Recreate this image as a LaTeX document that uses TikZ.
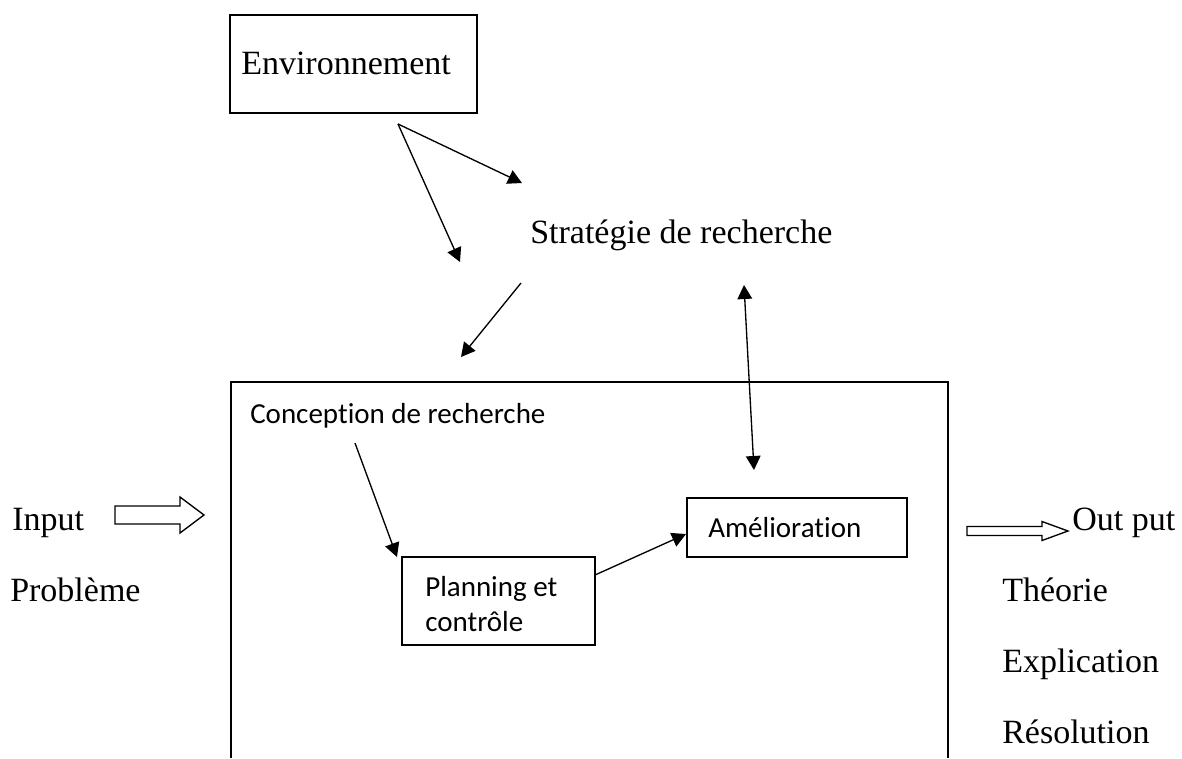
\documentclass[tikz,border=0pt]{standalone}
\usepackage{fontspec}
\setmainfont{Liberation Serif}
\newfontfamily\calibri[Ligatures=NoCommon]{Carlito}
\usetikzlibrary{arrows.meta}

\tikzset{
  serif/.style={anchor=base west, inner sep=0pt, font=\fontsize{25.5}{30}\selectfont},
  sans/.style={anchor=base west, inner sep=0pt, font=\calibri\fontsize{21.75}{26}\selectfont},
  link/.style={line width=1pt, -{Triangle[length=10.5pt,width=11pt]}},
  twoway/.style={line width=1pt, {Triangle[length=10.5pt,width=11pt]}-{Triangle[length=10.5pt,width=11pt]}},
  hollow/.style={line width=1pt, fill=white},
}

\begin{document}
\begin{tikzpicture}[x=0.75pt,y=0.75pt,yscale=-1,xscale=1]
\useasboundingbox (0,0) rectangle (1182,758);

%Shape: Rectangle
\draw [line width=1pt] (230,15) rectangle (477,113);
\node [serif] (env) at (241,74) {Environnement};

\node [serif] (strat) at (530,243) {Stratégie de recherche};

%Shape: Open box
\draw [line width=1.2pt] (231,758) -- (231,382) -- (948,382) -- (948,758);
\node [sans] (concep) at (250,423) {Conception de recherche};

%Shape: Rectangle
\draw [line width=1pt] (402,557) rectangle (595,645);
\node [sans] (plan1) at (425,596) {Planning et};
\node [sans] (plan2) at (425,631) {contrôle};

%Shape: Rectangle
\draw [line width=1pt] (687,498) rectangle (907,557);
\node [sans] (amel) at (708,537) {Amélioration};

\node [serif] (input) at (12,530) {Input};
\node [serif] (prob) at (10,601) {Problème};
\node [serif] (out) at (1072,530) {Out put};
\node [serif] (theo) at (1002,601) {Théorie};
\node [serif] (expl) at (1002,672) {Explication};
\node [serif] (reso) at (1002,743) {Résolution};

\coordinate (envA) at (398,124);
\coordinate (envB) at (522,183);
\coordinate (envC) at (460,262);
\coordinate (stA) at (521,283);
\coordinate (stB) at (461,357);
\coordinate (dbA) at (744,285);
\coordinate (dbB) at (754,470);
\coordinate (cpA) at (355,443);
\coordinate (cpB) at (397,557);
\coordinate (plA) at (595,575);
\coordinate (plB) at (686,534);

%Straight Lines
\draw [link] (envA) -- (envB);
\draw [link] (envA) -- (envC);
\draw [link] (stA) -- (stB);
\draw [twoway] (dbA) -- (dbB);
\draw [link] (cpA) -- (cpB);
\draw [link] (plA) -- (plB);

%Hollow arrows
\draw [hollow] (115,506) -- (180,506) -- (180,497) -- (204,515) -- (180,533) -- (180,524) -- (115,524) -- cycle;
\draw [hollow] (967,526.5) -- (1042,526.5) -- (1042,521.5) -- (1068,531) -- (1042,540.5) -- (1042,535.5) -- (967,535.5) -- cycle;
\end{tikzpicture}
\end{document}
